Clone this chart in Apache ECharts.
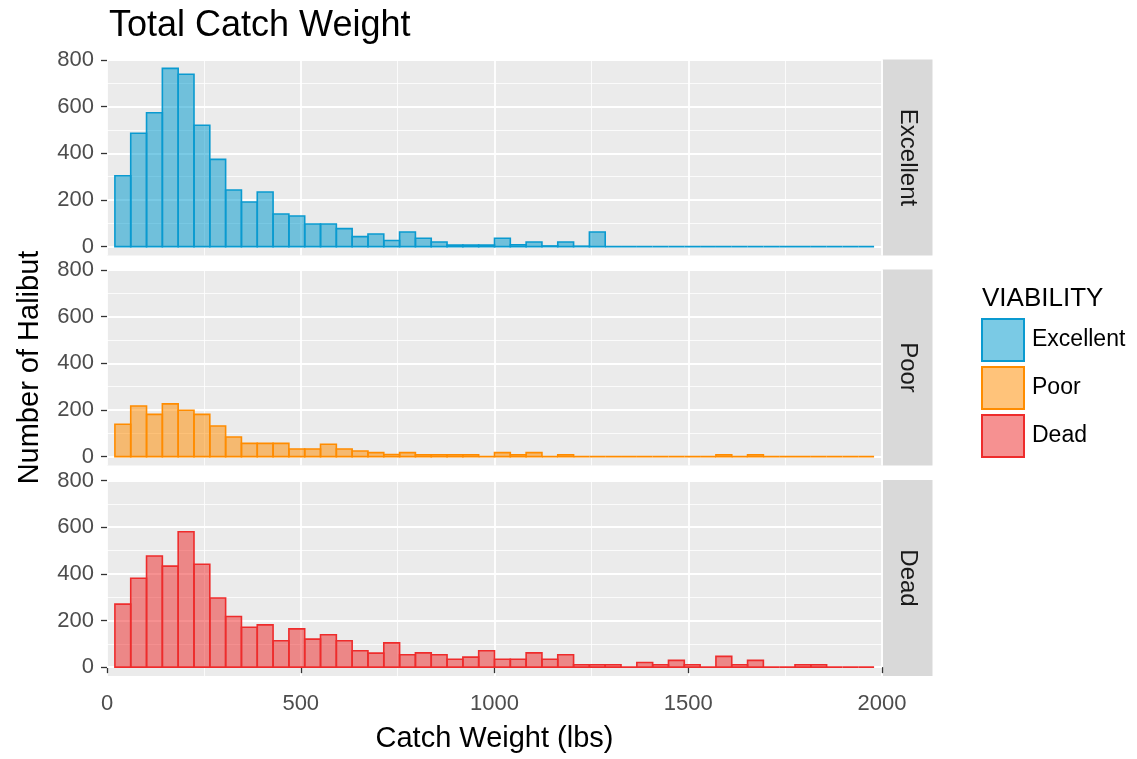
<!DOCTYPE html>
<html><head><meta charset="utf-8">
<script src="https://cdn.jsdelivr.net/npm/echarts@6/dist/echarts.min.js"></script>
<style>html,body{margin:0;padding:0;background:#fff}#c{width:1137px;height:759px}</style>
</head><body><div id="c"></div>
<script>
// ---------- data ----------
const facets = ['Excellent', 'Poor', 'Dead'];
const excellentCounts = [304, 486, 574, 764, 739, 520, 374, 243, 191, 234, 140, 131, 97, 97, 77, 43,
  54, 26, 63, 36, 20, 7, 7, 7, 36, 8, 20, 3, 20, 2, 63, 0,
  0, 0, 0, 0, 0, 0, 0, 0, 0, 0, 0, 0, 0, 0, 0, 0];
const poorCounts = [139, 217, 181, 226, 199, 181, 131, 84, 57, 57, 57, 33, 33, 53, 33, 24,
  17, 9, 17, 8, 8, 8, 8, 0, 17, 8, 17, 0, 8, 0, 0, 0,
  0, 0, 0, 0, 0, 0, 8, 0, 8, 0, 0, 0, 0, 0, 0, 0];
const deadCounts = [270, 381, 476, 433, 580, 441, 296, 217, 171, 181, 113, 164, 120, 139, 113, 70,
  60, 104, 53, 61, 53, 34, 43, 70, 34, 34, 61, 34, 53, 10, 10, 10,
  0, 20, 10, 29, 10, 0, 46, 10, 29, 0, 0, 10, 10, 0, 0, 0];
const binStart = 20.408;   // lbs, left edge of first bin
const binWidth = 40.816;   // lbs
const xTicks = [0, 500, 1000, 1500, 2000];
const yTicks = [0, 200, 400, 600, 800];
const yMinorTicks = [100, 300, 500, 700];
const xRange = [0, 2000];
const yRange = [-38, 802];

const titleText = 'Total Catch Weight';
const xTitle = 'Catch Weight (lbs)';
const yTitle = 'Number of Halibut';
const legendTitle = 'VIABILITY';

// ---------- style ----------
const FONT = '"Liberation Sans", Arial, sans-serif';
const strokeColors = ['#0A9AD0', '#FF8C00', '#EE2C2C'];
const fillColors = ['rgba(0,154,205,0.52)', 'rgba(255,140,0,0.52)', 'rgba(238,44,44,0.52)'];
const countsList = [excellentCounts, poorCounts, deadCounts];

const L = 107, W = 775, H = 196;
const tops = [59.5, 269.5, 480];

function binRows(counts) {
  return counts.map((n, i) => [binStart + i * binWidth, binStart + (i + 1) * binWidth, n]);
}

const grids = [], xAxes = [], yAxes = [], series = [], graphics = [];

facets.forEach((name, k) => {
  grids.push({ left: L, top: tops[k], width: W, height: H, show: true,
    backgroundColor: '#EBEBEB', borderWidth: 0, containLabel: false });
  const isBottom = k === facets.length - 1;
  xAxes.push({
    type: 'value', gridIndex: k, min: xRange[0], max: xRange[1], interval: 500,
    axisLine: { show: false },
    axisTick: { show: isBottom, length: 6, customValues: xTicks, lineStyle: { color: '#333333', width: 1.3 } },
    axisLabel: { show: isBottom, margin: 17, customValues: xTicks, fontSize: 22, color: '#4D4D4D', fontFamily: FONT,
      formatter: v => String(v) },
    splitLine: { show: true, lineStyle: { color: '#FFFFFF', width: 1.8 } },
    minorTick: { show: false, splitNumber: 2 },
    minorSplitLine: { show: true, lineStyle: { color: '#FFFFFF', width: 0.8 } },
    name: isBottom ? xTitle : '', nameLocation: 'middle', nameGap: 48,
    nameTextStyle: { fontSize: 29, color: '#000', fontFamily: FONT }
  });
  yAxes.push({
    type: 'value', gridIndex: k, min: yRange[0], max: yRange[1],
    axisLine: { show: false },
    axisTick: { show: true, length: 6, customValues: yTicks, lineStyle: { color: '#333333', width: 1.3 } },
    axisLabel: { show: true, margin: 13, customValues: yTicks, fontSize: 22, color: '#4D4D4D', fontFamily: FONT },
    splitLine: { show: false },
    name: k === 1 ? yTitle : '', nameLocation: 'middle', nameGap: 63,
    nameTextStyle: { fontSize: 29, color: '#000', fontFamily: FONT }
  });
  // gridlines (drawn below the bars)
  series.push({
    type: 'line', xAxisIndex: k, yAxisIndex: k, data: [], silent: true, z: 1,
    markLine: {
      z: 1, silent: true, symbol: ['none', 'none'], animation: false,
      label: { show: false },
      data: yTicks.map(v => ({ yAxis: v, lineStyle: { color: '#FFFFFF', width: 1.8, type: 'solid' } }))
        .concat(yMinorTicks.map(v => ({ yAxis: v, lineStyle: { color: '#FFFFFF', width: 0.8, type: 'solid' } })))
    }
  });
  const fill = fillColors[k], stroke = strokeColors[k];
  series.push({
    name: name, type: 'custom', xAxisIndex: k, yAxisIndex: k, z: 3,
    data: binRows(countsList[k]),
    encode: { x: [0, 1], y: 2 },
    itemStyle: { color: fill, borderColor: stroke, borderWidth: 1.5 },
    renderItem: function (params, api) {
      const p0 = api.coord([api.value(0), api.value(2)]);
      const p1 = api.coord([api.value(1), 0]);
      return {
        type: 'rect',
        shape: { x: p0[0], y: p0[1], width: p1[0] - p0[0], height: p1[1] - p0[1] },
        style: { fill: fill, stroke: stroke, lineWidth: 1.6 }
      };
    },
    animation: false
  });
  // facet strip
  graphics.push({ type: 'rect', left: L + W + 0.5, top: tops[k], silent: true,
    shape: { width: 50, height: H }, style: { fill: '#D9D9D9' } });
  graphics.push({ type: 'text', x: L + W + 25.5, y: tops[k] + H / 2, rotation: -Math.PI / 2, silent: true,
    style: { text: name, fontSize: 24, fill: '#1A1A1A', fontFamily: FONT, align: 'center', verticalAlign: 'middle' } });
});

const option = {
  animation: false,
  backgroundColor: '#FFFFFF',
  title: [
    { text: titleText, left: 104, top: 3, textStyle: { fontSize: 36, fontWeight: 'normal', color: '#000', fontFamily: FONT } },
    { text: legendTitle, left: 977, top: 281, textStyle: { fontSize: 26, fontWeight: 'normal', color: '#000', fontFamily: FONT } }
  ],
  grid: grids, xAxis: xAxes, yAxis: yAxes, series: series,
  legend: {
    orient: 'vertical', left: 981, top: 318, padding: 0, itemGap: 4,
    itemWidth: 42, itemHeight: 42, icon: 'rect',
    textStyle: { fontSize: 23, color: '#000', fontFamily: FONT, padding: [0, 0, 0, 3] },
    data: facets.map((n, k) => ({ name: n, icon: 'rect',
      itemStyle: { color: fillColors[k], borderColor: strokeColors[k], borderWidth: 2 } }))
  },
  graphic: graphics
};

const chart = echarts.init(document.getElementById('c'), null, { renderer: 'canvas' });
chart.setOption(option);
</script>
</body></html>
